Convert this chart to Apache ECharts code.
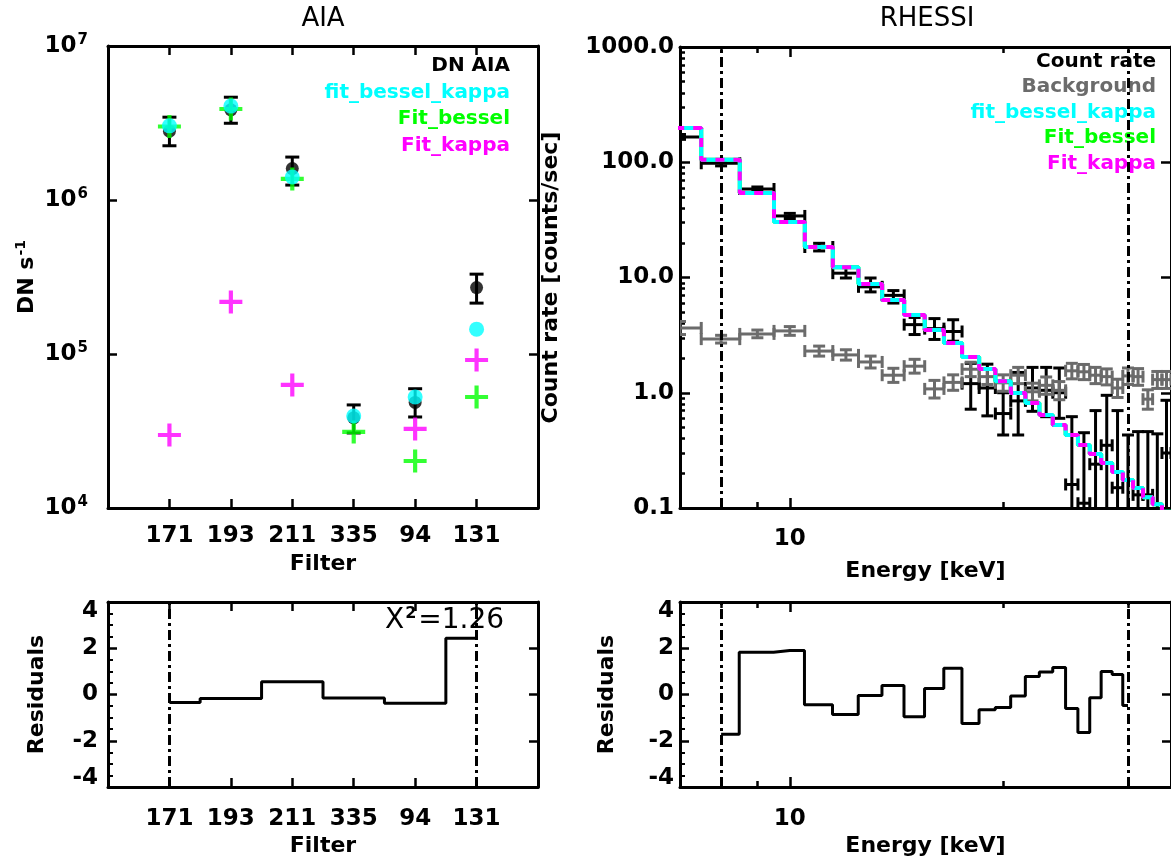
<!DOCTYPE html>
<html>
<head>
<meta charset="utf-8">
<title>AIA / RHESSI fit</title>
<script src="https://cdn.jsdelivr.net/npm/echarts@6/dist/echarts.min.js"></script>
<style>
html, body { margin: 0; padding: 0; background: #fff; }
#chart { width: 1171px; height: 863px; }
</style>
</head>
<body>
<div id="chart"></div>
<script>
// AIA filters and DN rates
var filters = ['171', '193', '211', '335', '94', '131'];
var aiaObs = [2.8e6, 3.85e6, 1.6e6, 3.85e4, 4.85e4, 2.7e5];
var aiaLo = [2.25e6, 3.15e6, 1.25e6, 3.07e4, 3.9e4, 2.14e5];
var aiaHi = [3.45e6, 4.65e6, 1.9e6, 4.67e4, 5.95e4, 3.3e5];
var aiaFitBesselKappa = [3.03e6, 4.07e6, 1.41e6, 3.96e4, 5.26e4, 1.45e5];
var aiaFitBessel = [3.0e6, 3.9e6, 1.37e6, 3.12e4, 2.02e4, 5.26e4];
var aiaFitKappa = [2.98e4, 2.18e5, 6.3e4, 8.5e3, 3.26e4, 9.14e4];
var aiaResid = [-0.35, -0.17, 0.55, -0.15, -0.38, 2.43];

// RHESSI spectrum, 1 keV bins
var energy = [7, 8, 9, 10, 11, 12, 13, 14, 15, 16, 17, 18, 19, 20, 21, 22, 23, 24, 25, 26, 27, 28, 29, 30, 31, 32, 33, 34];
var rate = [166, 98, 58.6, 34.2, 18.4, 10.9, 8.3, 7.0, 3.9, 3.6, 3.4, 1.2, 1.1, 0.66, 0.85, 1.1, 1.05, 1.0, 0.16, 0.11, 0.24, 0.35, 0.15, 0.07, 0.13, 0.13, 0.09, 0.3];
var rateLo = [158, 93, 56, 32.5, 17, 9.9, 7.5, 6.0, 3.2, 2.9, 2.8, 0.72, 0.63, 0.43, 0.43, 0.69, 0.62, 0.6, 0.01, 0.01, 0.02, 0.02, 0.01, 0.01, 0.01, 0.01, 0.01, 0.02];
var rateHi = [174, 103, 61, 36, 19.8, 12.2, 9.9, 7.7, 4.5, 4.4, 4.3, 1.8, 1.77, 1.0, 1.5, 1.66, 1.66, 1.64, 0.62, 0.45, 0.7, 0.95, 0.7, 0.43, 0.46, 0.46, 0.44, 0.86];
var bg = [3.65, 2.92, 3.24, 3.44, 2.30, 2.13, 1.85, 1.42, 1.70, 1.08, 1.23, 1.6, 1.38, 1.22, 1.42, 1.02, 1.16, 1.05, 1.55, 1.52, 1.42, 1.38, 1.1, 1.4, 1.38, 0.88, 1.3, 1.3];
var bgLo = [3.2, 2.7, 3.0, 3.15, 2.08, 1.92, 1.64, 1.23, 1.48, 0.9, 1.05, 1.38, 1.18, 1.03, 1.2, 0.85, 0.97, 0.87, 1.32, 1.3, 1.2, 1.17, 0.91, 1.18, 1.16, 0.72, 1.09, 1.09];
var bgHi = [4.15, 3.15, 3.5, 3.75, 2.54, 2.36, 2.08, 1.63, 1.95, 1.28, 1.43, 1.84, 1.6, 1.43, 1.66, 1.21, 1.37, 1.25, 1.8, 1.76, 1.66, 1.61, 1.31, 1.64, 1.62, 1.06, 1.53, 1.53];
var fitModel = [198, 105, 54, 30.3, 18.4, 12.3, 8.79, 6.38, 4.73, 3.50, 2.70, 2.04, 1.61, 1.26, 0.995, 0.815, 0.641, 0.525, 0.430, 0.352, 0.294, 0.246, 0.205, 0.175, 0.149, 0.124, 0.108, 0.093];
var residEnergy = [8, 9, 10, 11, 12, 13, 14, 15, 16, 17, 18, 19, 20, 21, 22, 23, 24, 25, 26, 27, 28, 29, 30];
var hsiResid = [-1.72, 1.83, 1.90, -0.44, -0.87, -0.04, 0.39, -0.96, 0.26, 1.14, -1.25, -0.66, -0.56, -0.06, 0.78, 0.97, 1.17, -0.61, -1.64, -0.14, 1.0, 0.87, -0.48];

// fit range markers
var aiaRange = [1, 6];
var hsiRange = [8, 30];
var energyMajor = [10];
var energyMinor = [8, 9, 20, 30];

var FONT = 'DejaVu Sans';
var CYAN = '#00ffff', GREEN = '#00ff00', MAGENTA = '#ff00ff', GREY = '#6b6b6b';
var PLUS = 'path://M9,0H13V9H22V13H13V22H9V13H0V9H9Z';

var chart = echarts.init(document.getElementById('chart'));

// minor ticks 2..9 in each decade of the count rate axis
var rateMinor = [];
[0.1, 1, 10, 100].forEach(function (d) {
    for (var k = 2; k <= 9; k++) rateMinor.push(+(k * d).toFixed(3));
});

function axisLine() { return {show: true, onZero: false, lineStyle: {color: '#000', width: 3}}; }
function ticks(len, values) {
    var t = {show: true, inside: true, length: len, lineStyle: {color: '#000', width: 2.5}};
    if (values) t.customValues = values;
    return t;
}
function labels(extra) {
    var l = {show: true, color: '#000', fontFamily: FONT, fontWeight: 'bold', fontSize: 23};
    for (var k in extra) l[k] = extra[k];
    return l;
}
var nameStyle = {color: '#000', fontFamily: FONT, fontWeight: 'bold', fontSize: 22};

function filterAxis(grid, pos, showLabel, name) {
    return {
        type: 'value', gridIndex: grid, position: pos, min: 0, max: 7, interval: 1,
        axisLine: axisLine(), axisTick: ticks(9), splitLine: {show: false},
        axisLabel: showLabel ? labels({margin: grid === 2 ? 21 : 17, formatter: function (v) {
            return (v >= 1 && v <= 6) ? filters[v - 1] : '';
        }}) : {show: false},
        name: name || '', nameLocation: 'middle', nameGap: grid === 2 ? 48 : 44, nameTextStyle: nameStyle
    };
}
function energyAxis(grid, pos, major, showLabel, name) {
    return {
        type: 'log', logBase: 10, gridIndex: grid, position: pos, min: 7, max: 34.5,
        axisLine: major ? axisLine() : {show: false, onZero: false},
        axisTick: major ? ticks(10, energyMajor) : ticks(6, energyMinor),
        axisLabel: showLabel ? labels({margin: grid === 1 ? 20 : 21, customValues: energyMajor}) : {show: false},
        splitLine: {show: false},
        name: name || '', nameLocation: 'middle', nameGap: grid === 1 ? 52 : 48, nameTextStyle: nameStyle
    };
}
function residAxis(grid, pos, showLabel, name, gap) {
    return {
        type: 'value', gridIndex: grid, position: pos, min: -4, max: 4, interval: 2,
        axisLine: axisLine(), axisTick: ticks(9),
        minorTick: {show: showLabel, splitNumber: 4, length: 5, lineStyle: {color: '#000', width: 2}},
        axisLabel: showLabel ? labels({margin: grid === 2 ? 10 : 6, formatter: function (v) {
            // end labels sit a little inside the box, as in the original plot
            if (v === 4) return '{top|4}';
            if (v === -4) return '{bot|-4}';
            return String(v);
        }, rich: {
            top: {fontFamily: FONT, fontWeight: 'bold', fontSize: 23, color: '#000', padding: [18, 0, 0, 0]},
            bot: {fontFamily: FONT, fontWeight: 'bold', fontSize: 23, color: '#000', padding: [0, 0, 18, 0]}
        }}) : {show: false},
        splitLine: {show: false}, minorSplitLine: {show: false},
        name: name || '', nameLocation: 'middle', nameGap: gap || 0, nameTextStyle: nameStyle
    };
}

// error bar drawers
function aiaErrorItem(params, api) {
    var x = api.value(0);
    var lo = api.coord([x, api.value(1)]);
    var hi = api.coord([x, api.value(2)]);
    var w = 7, st = {stroke: '#000', lineWidth: 3};
    return {type: 'group', children: [
        {type: 'line', shape: {x1: lo[0], y1: lo[1], x2: hi[0], y2: hi[1]}, style: st},
        {type: 'line', shape: {x1: lo[0] - w, y1: lo[1], x2: lo[0] + w, y2: lo[1]}, style: st},
        {type: 'line', shape: {x1: hi[0] - w, y1: hi[1], x2: hi[0] + w, y2: hi[1]}, style: st}
    ]};
}
function binErrorRenderer(color) {
    return function (params, api) {
        var e = api.value(0), v = api.value(1);
        var left = api.coord([e - 0.5, v]);
        var right = api.coord([e + 0.5, v]);
        var lo = api.coord([e, api.value(2)]);
        var hi = api.coord([e, api.value(3)]);
        var w = 6, st = {stroke: color, lineWidth: 3};
        return {type: 'group', children: [
            {type: 'line', shape: {x1: left[0], y1: left[1], x2: right[0], y2: right[1]}, style: st},
            {type: 'line', shape: {x1: left[0], y1: left[1] - w, x2: left[0], y2: left[1] + w}, style: st},
            {type: 'line', shape: {x1: right[0], y1: right[1] - w, x2: right[0], y2: right[1] + w}, style: st},
            {type: 'line', shape: {x1: lo[0], y1: lo[1], x2: hi[0], y2: hi[1]}, style: st},
            {type: 'line', shape: {x1: lo[0] - w, y1: lo[1], x2: lo[0] + w, y2: lo[1]}, style: st},
            {type: 'line', shape: {x1: hi[0] - w, y1: hi[1], x2: hi[0] + w, y2: hi[1]}, style: st}
        ]};
    };
}

function pairs(xs, ys) {
    return ys.map(function (y, i) { return [xs[i], y]; });
}
function binSteps(xs, ys) {
    var out = [];
    for (var i = 0; i < xs.length; i++) {
        out.push([xs[i] - 0.5, ys[i]], [xs[i] + 0.5, ys[i]]);
    }
    return out;
}
var filterPos = filters.map(function (f, i) { return i + 1; });

function rangeLines(values) {
    return {
        silent: true, symbol: ['none', 'none'], label: {show: false},
        lineStyle: {color: '#000', width: 3, type: [10, 4, 3, 4]},
        emphasis: {disabled: true},
        data: values.map(function (v) { return {xAxis: v}; })
    };
}

function legendText(text, x, y, color) {
    return {type: 'text', style: {text: text, x: x, y: y, font: 'bold 20px "DejaVu Sans"', fill: color,
        textAlign: 'right', textVerticalAlign: 'middle', align: 'right', verticalAlign: 'middle'}};
}
function titleText(text, x) {
    return {type: 'text', style: {text: text, x: x, y: 19, font: '26px "DejaVu Sans"', fill: '#000',
        textAlign: 'center', textVerticalAlign: 'middle', align: 'center', verticalAlign: 'middle'}};
}

var option = {
    animation: false,
    backgroundColor: '#fff',
    grid: [
        {left: 108, top: 46, width: 430, height: 462},
        {left: 680, top: 47, width: 494, height: 461},
        {left: 108, top: 602, width: 430, height: 185},
        {left: 680, top: 602, width: 494, height: 185}
    ],
    xAxis: [
        filterAxis(0, 'bottom', true, 'Filter'),
        filterAxis(0, 'top', false),
        energyAxis(1, 'bottom', true, true, 'Energy [keV]'),
        energyAxis(1, 'bottom', false, false),
        energyAxis(1, 'top', true, false),
        energyAxis(1, 'top', false, false),
        filterAxis(2, 'bottom', true, 'Filter'),
        filterAxis(2, 'top', false),
        energyAxis(3, 'bottom', true, true, 'Energy [keV]'),
        energyAxis(3, 'bottom', false, false),
        energyAxis(3, 'top', true, false),
        energyAxis(3, 'top', false, false)
    ],
    yAxis: [
        {
            type: 'log', logBase: 10, gridIndex: 0, position: 'left', min: 1e4, max: 1e7,
            axisLine: axisLine(), axisTick: ticks(9), splitLine: {show: false},
            axisLabel: labels({margin: 20, formatter: function (v) {
                return '{b|10}{s|' + Math.round(Math.log(v) / Math.LN10) + '}';
            }, rich: {
                b: {fontFamily: FONT, fontWeight: 'bold', fontSize: 23, color: '#000'},
                s: {fontFamily: FONT, fontWeight: 'bold', fontSize: 15, color: '#000', verticalAlign: 'top', padding: [0, 0, 12, 1]}
            }}),
            name: 'DN s{s|-1}', nameLocation: 'middle', nameGap: 68,
            nameTextStyle: {color: '#000', fontFamily: FONT, fontWeight: 'bold', fontSize: 22, rich: {
                s: {fontFamily: FONT, fontWeight: 'bold', fontSize: 14, color: '#000', verticalAlign: 'top', padding: [0, 0, 12, 1]}
            }}
        },
        {
            type: 'log', logBase: 10, gridIndex: 0, position: 'right', min: 1e4, max: 1e7,
            axisLine: axisLine(), axisTick: ticks(9), axisLabel: {show: false}, splitLine: {show: false}
        },
        {
            type: 'log', logBase: 10, gridIndex: 1, position: 'left', min: 0.1, max: 1000,
            axisLine: axisLine(), axisTick: ticks(10), splitLine: {show: false},
            axisLabel: labels({margin: 6, formatter: function (v) { return v.toFixed(1); }}),
            name: 'Count rate [counts/sec]', nameLocation: 'middle', nameGap: 118, nameTextStyle: nameStyle
        },
        {
            type: 'log', logBase: 10, gridIndex: 1, position: 'left', min: 0.1, max: 1000,
            axisLine: {show: false, onZero: false}, axisTick: ticks(5, rateMinor), axisLabel: {show: false}, splitLine: {show: false}
        },
        {
            type: 'log', logBase: 10, gridIndex: 1, position: 'right', min: 0.1, max: 1000,
            axisLine: axisLine(), axisTick: ticks(10), axisLabel: {show: false}, splitLine: {show: false}
        },
        residAxis(2, 'left', true, 'Residuals', 60),
        residAxis(2, 'right', false),
        residAxis(3, 'left', true, 'Residuals', 62),
        residAxis(3, 'right', false)
    ],
    graphic: [
        titleText('AIA', 323),
        titleText('RHESSI', 927),
        legendText('DN AIA', 510, 66, '#000'),
        legendText('fit_bessel_kappa', 510, 93, CYAN),
        legendText('Fit_bessel', 510, 119, GREEN),
        legendText('Fit_kappa', 510, 146, MAGENTA),
        legendText('Count rate', 1156, 62, '#000'),
        legendText('Background', 1156, 87, GREY),
        legendText('fit_bessel_kappa', 1156, 113, CYAN),
        legendText('Fit_bessel', 1156, 138, GREEN),
        legendText('Fit_kappa', 1156, 164, MAGENTA),
        // reduced chi square
        {type: 'text', z: 100, style: {text: 'X{s|2}=1.26', x: 385, y: 621, font: '28px "DejaVu Sans"', fill: '#000',
            textAlign: 'left', textVerticalAlign: 'middle', align: 'left', verticalAlign: 'middle',
            rich: {s: {fontSize: 16, fontFamily: FONT, fontWeight: 'bold', fill: '#000', verticalAlign: 'top', padding: [0, 2, 14, 1]}}}}
    ],
    series: [
        // AIA panel
        {
            type: 'custom', name: 'DN AIA err', xAxisIndex: 0, yAxisIndex: 0, clip: true,
            renderItem: aiaErrorItem, encode: {x: 0, y: [1, 2]},
            data: filterPos.map(function (x, i) { return [x, aiaLo[i], aiaHi[i]]; })
        },
        {
            type: 'scatter', name: 'DN AIA', xAxisIndex: 0, yAxisIndex: 0, symbol: 'circle', symbolSize: 13,
            itemStyle: {color: '#000'}, data: pairs(filterPos, aiaObs)
        },
        {
            type: 'scatter', name: 'Fit_bessel', xAxisIndex: 0, yAxisIndex: 0, symbol: PLUS, symbolSize: 23,
            itemStyle: {color: GREEN}, data: pairs(filterPos, aiaFitBessel)
        },
        {
            type: 'scatter', name: 'Fit_kappa', xAxisIndex: 0, yAxisIndex: 0, symbol: PLUS, symbolSize: 23,
            itemStyle: {color: MAGENTA}, data: pairs(filterPos, aiaFitKappa)
        },
        {
            type: 'scatter', name: 'fit_bessel_kappa', xAxisIndex: 0, yAxisIndex: 0, symbol: 'circle', symbolSize: 15,
            itemStyle: {color: CYAN}, data: pairs(filterPos, aiaFitBesselKappa)
        },
        // RHESSI panel
        {
            type: 'custom', name: 'Count rate', xAxisIndex: 2, yAxisIndex: 2, clip: true,
            renderItem: binErrorRenderer('#000'), encode: {x: 0, y: [1, 2, 3]},
            data: energy.map(function (e, i) { return [e, rate[i], rateLo[i], rateHi[i]]; })
        },
        {
            type: 'custom', name: 'Background', xAxisIndex: 2, yAxisIndex: 2, clip: true,
            renderItem: binErrorRenderer(GREY), encode: {x: 0, y: [1, 2, 3]},
            data: energy.map(function (e, i) { return [e, bg[i], bgLo[i], bgHi[i]]; })
        },
        {
            type: 'line', name: 'Fit_bessel', xAxisIndex: 2, yAxisIndex: 2, symbol: 'none', clip: true,
            lineStyle: {color: GREEN, width: 4}, data: binSteps(energy, fitModel)
        },
        {
            type: 'line', name: 'fit_bessel_kappa', xAxisIndex: 2, yAxisIndex: 2, symbol: 'none', clip: true,
            lineStyle: {color: CYAN, width: 4}, data: binSteps(energy, fitModel)
        },
        {
            type: 'line', name: 'Fit_kappa', xAxisIndex: 2, yAxisIndex: 2, symbol: 'none', clip: true,
            lineStyle: {color: MAGENTA, width: 4, type: [9, 9]}, data: binSteps(energy, fitModel),
            markLine: rangeLines(hsiRange)
        },
        // residuals
        {
            type: 'line', name: 'AIA residuals', xAxisIndex: 6, yAxisIndex: 5, step: 'middle', symbol: 'none',
            lineStyle: {color: '#000', width: 3}, data: pairs(filterPos, aiaResid),
            markLine: rangeLines(aiaRange)
        },
        {
            type: 'line', name: 'RHESSI residuals', xAxisIndex: 8, yAxisIndex: 7, step: 'middle', symbol: 'none',
            lineStyle: {color: '#000', width: 3}, data: pairs(residEnergy, hsiResid),
            markLine: rangeLines(hsiRange)
        }
    ]
};

chart.setOption(option);
</script>
</body>
</html>
